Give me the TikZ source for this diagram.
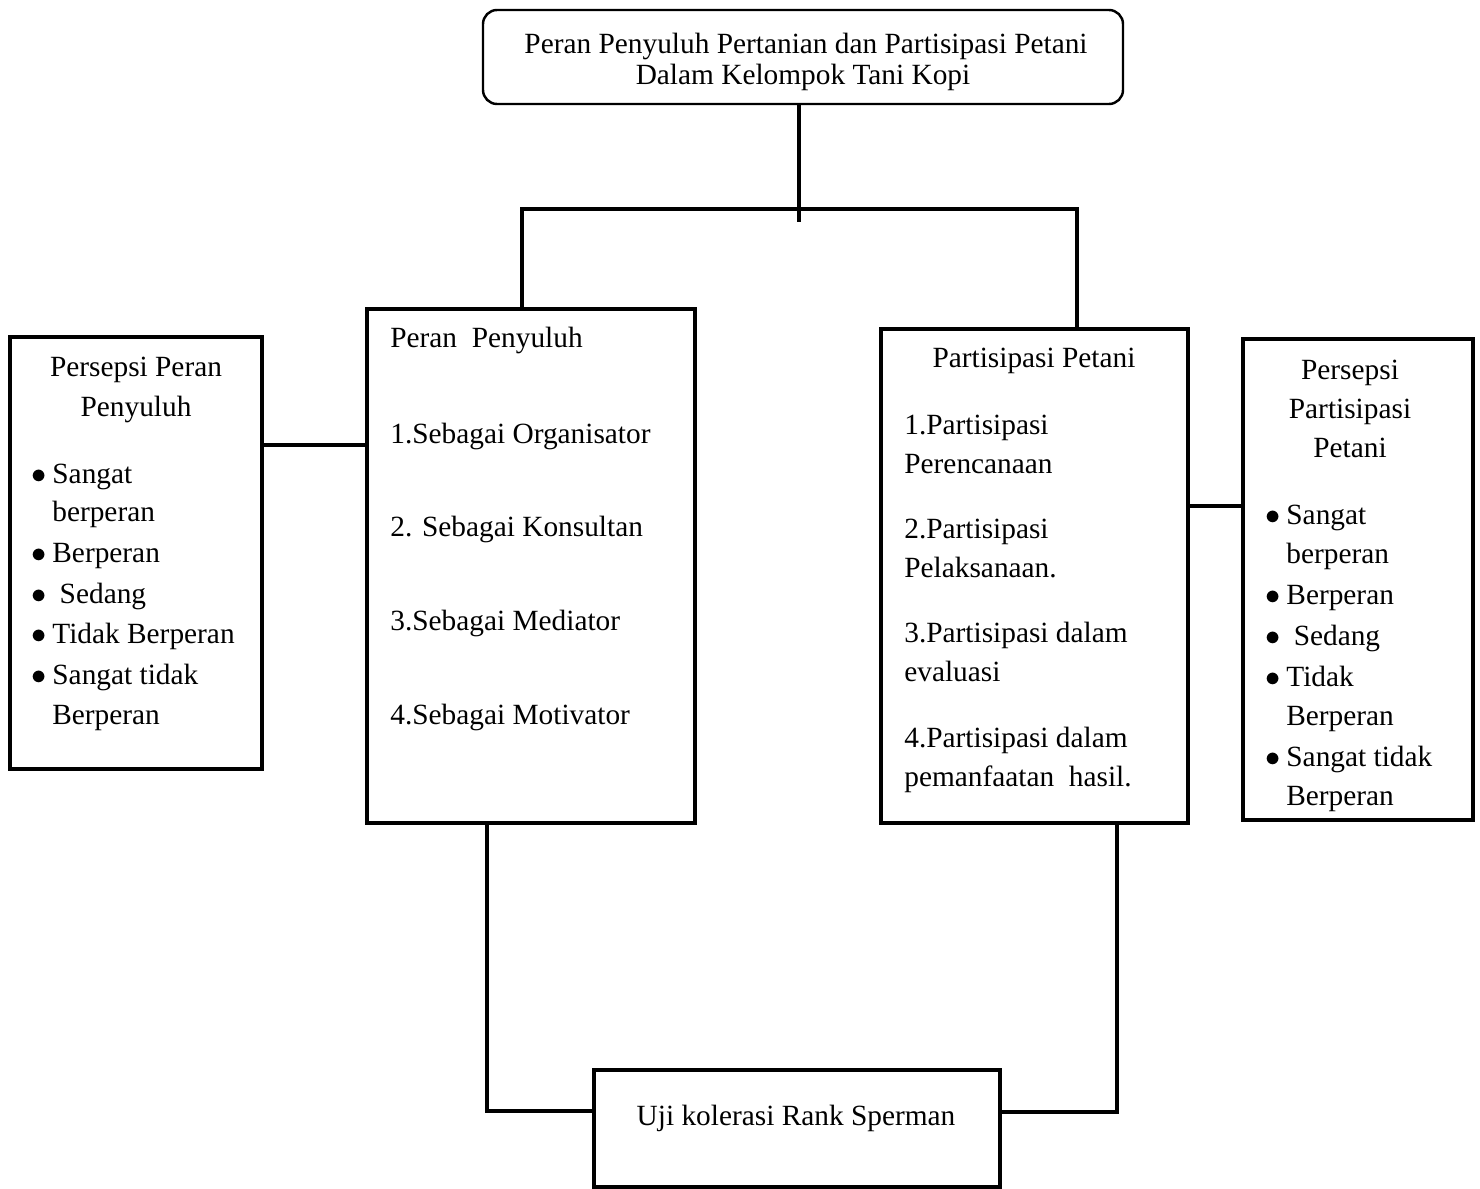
\documentclass[tikz,border=0pt]{standalone}
\usepackage{fontspec}
\setmainfont{Liberation Serif}
\usepackage{tikz}
\usetikzlibrary{positioning,fit,calc}

\newcommand\blt{\makebox[0.82em][l]{\hspace{0.1em}$\bullet$}}

\tikzset{
  box/.style={draw, line width=2.6pt, inner sep=0pt, outer sep=0pt},
  link/.style={line width=2.8pt},
  txt/.style={anchor=base west, inner sep=0pt},
  ctxt/.style={anchor=base, inner sep=0pt},
  every node/.style={font=\fontsize{16.7}{20}\selectfont}
}

\begin{document}
\begin{tikzpicture}[x=0.02cm, y=-0.02cm]
            \useasboundingbox (0,0) rectangle (1480,1189);

            % boxes
            \node[box, line width=1.4pt, rounded corners=8pt, fit={(483,10) (1123,104)}] (top) {};
            \node[box, fit={(10,337) (262,769)}] (lp) {};
            \node[box, fit={(367,309) (695,823)}] (pp) {};
            \node[box, fit={(881,329) (1188,823)}] (pt) {};
            \node[box, fit={(1243,339) (1473,820)}] (rp) {};
            \node[box, fit={(594,1070) (1000,1187)}] (uji) {};

            % title
            \node[ctxt] (top1) at (806,54) {Peran Penyuluh Pertanian dan Partisipasi Petani};
            \node[ctxt] (top2) at (803,85) {Dalam Kelompok Tani Kopi};

            % persepsi peran penyuluh
            \node[ctxt] (lp1) at (136,377) {Persepsi Peran};
            \node[ctxt] (lp2) at (136,416) {Penyuluh};
            \node[txt] (lp3) at (28,483) {\blt Sangat};
            \node[txt] (lp4) at (52,521) {berperan};
            \node[txt] (lp5) at (28,562) {\blt Berperan};
            \node[txt] (lp6) at (28,603) {\blt{} Sedang};
            \node[txt] (lp7) at (28,643) {\blt Tidak Berperan};
            \node[txt] (lp8) at (28,684) {\blt Sangat tidak};
            \node[txt] (lp9) at (52,724) {Berperan};

            % peran penyuluh
            \node[txt] (pp1) at (390,348) {Peran~ Penyuluh};
            \node[txt] (pp2) at (390,443) {1.Sebagai Organisator};
            \node[txt] (pp3) at (390,536) {2. Sebagai Konsultan};
            \node[txt] (pp4) at (390,630) {3.Sebagai Mediator};
            \node[txt] (pp5) at (390,724) {4.Sebagai Motivator};

            % partisipasi petani
            \node[ctxt] (pt1) at (1034,367) {Partisipasi Petani};
            \node[txt] (pt2) at (904,434) {1.Partisipasi};
            \node[txt] (pt3) at (904,473) {Perencanaan};
            \node[txt] (pt4) at (904,538) {2.Partisipasi};
            \node[txt] (pt5) at (904,577) {Pelaksanaan.};
            \node[txt] (pt6) at (904,642) {3.Partisipasi dalam};
            \node[txt] (pt7) at (904,681) {evaluasi};
            \node[txt] (pt8) at (904,747) {4.Partisipasi dalam};
            \node[txt] (pt9) at (904,786) {pemanfaatan~ hasil.};

            % persepsi partisipasi petani
            \node[ctxt] (rp1) at (1350,379) {Persepsi};
            \node[ctxt] (rp2) at (1350,418) {Partisipasi};
            \node[ctxt] (rp3) at (1350,457) {Petani};
            \node[txt] (rp4) at (1262,524) {\blt Sangat};
            \node[txt] (rp5) at (1286,563) {berperan};
            \node[txt] (rp6) at (1262,604) {\blt Berperan};
            \node[txt] (rp7) at (1262,645) {\blt{} Sedang};
            \node[txt] (rp8) at (1262,686) {\blt Tidak};
            \node[txt] (rp9) at (1286,725) {Berperan};
            \node[txt] (rp10) at (1262,766) {\blt Sangat tidak};
            \node[txt] (rp11) at (1286,805) {Berperan};

            % uji
            \node[ctxt] (uji1) at (796,1125) {Uji kolerasi Rank Sperman};

            % connectors
            \coordinate (stem) at (799,222);
            \coordinate (barl) at (522,209);
            \coordinate (barr) at (1077,209);
            \coordinate (ml) at (0,445);
            \coordinate (mr) at (0,506);
            \coordinate (bl) at (487,1111);
            \coordinate (br) at (1117,1112);

            \draw[link] (top.south -| stem) -- (stem);
            \draw[link] (pp.north -| barl) -- (barl) -- (barr) -- (pt.north -| barr);
            \draw[link] (lp.east |- ml) -- (pp.west |- ml);
            \draw[link] (pt.east |- mr) -- (rp.west |- mr);
            \draw[link] (pp.south -| bl) |- (uji.west |- bl);
            \draw[link] (pt.south -| br) |- (uji.east |- br);
        \end{tikzpicture}
\end{document}
